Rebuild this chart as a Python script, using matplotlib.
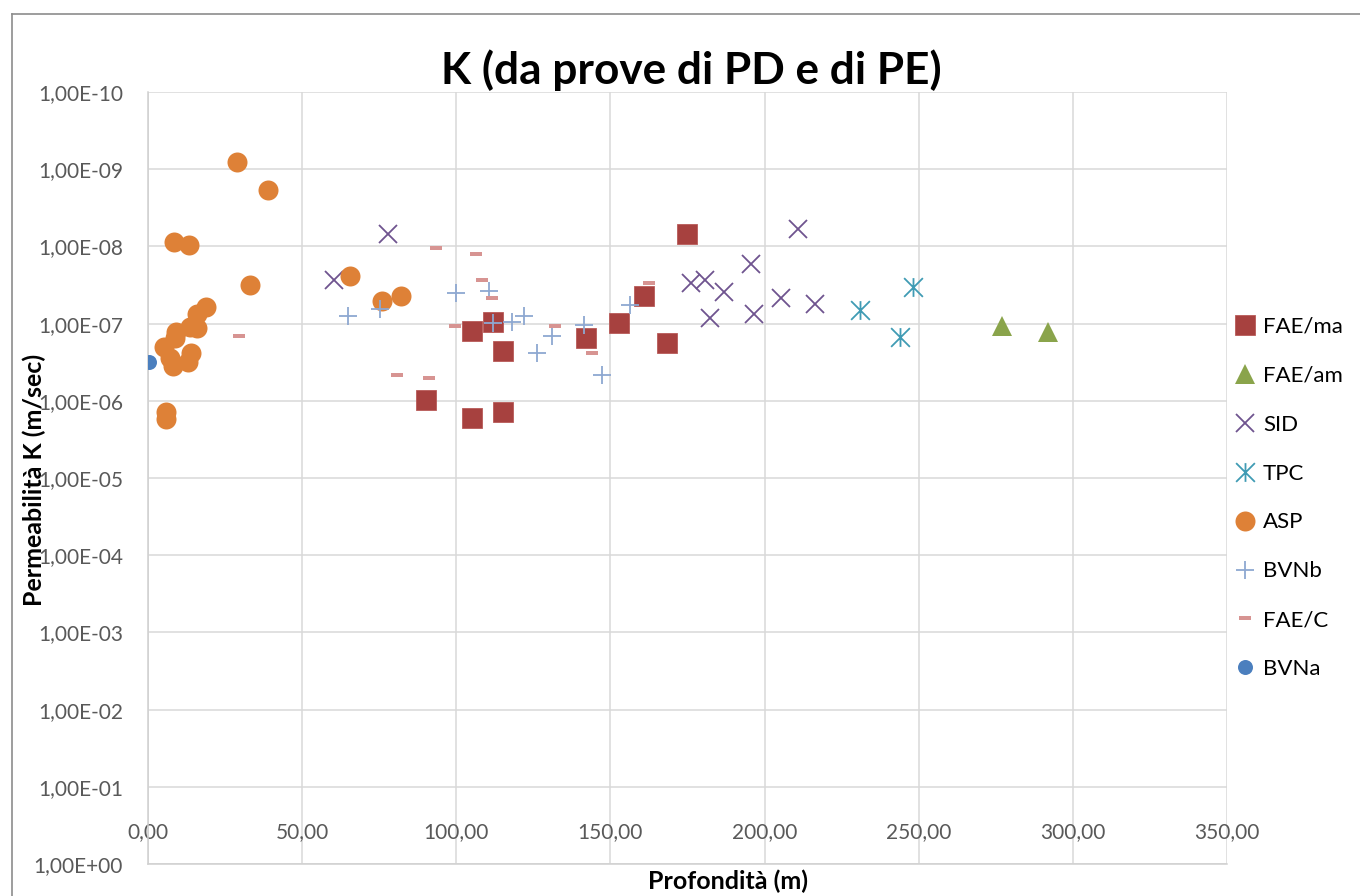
import matplotlib
matplotlib.use("Agg")
import matplotlib.pyplot as plt
from matplotlib.path import Path
from matplotlib.lines import Line2D
from matplotlib.ticker import FixedLocator, FuncFormatter

plt.rcParams['font.family'] = ['Lato', 'DejaVu Sans']

# Profondità (m) e permeabilità K (m/sec) per ogni formazione
fae_ma_x = [111.9, 105.1, 115.0, 90.1, 105.1, 115.0, 142.1, 152.9, 161.0, 168.3, 175.0]
fae_ma_k = [9.5e-8, 1.25e-7, 2.26e-7, 9.86e-7, 1.66e-6, 1.38e-6, 1.55e-7, 9.9e-8, 4.4e-8, 1.77e-7, 6.9e-9]

fae_am_x = [277.0, 292.0]
fae_am_k = [1.07e-7, 1.27e-7]

sid_x = [60.3, 78.0, 176.0, 180.7, 187.0, 195.6, 182.4, 196.5, 205.4, 216.5, 210.7]
sid_k = [2.7e-8, 7.0e-9, 3.0e-8, 2.7e-8, 3.9e-8, 1.7e-8, 8.4e-8, 7.5e-8, 4.6e-8, 5.5e-8, 6.0e-9]

tpc_x = [231.0, 244.0, 248.0]
tpc_k = [6.7e-8, 1.48e-7, 3.4e-8]

asp_x = [28.9, 39.0, 8.4, 13.4, 33.0, 18.8, 15.8, 15.8, 13.6, 9.1, 8.7, 5.3, 7.1, 8.0,
         13.9, 13.1, 6.0, 6.0, 65.6, 76.0, 82.0]
asp_k = [8.0e-10, 1.87e-9, 8.85e-9, 9.7e-9, 3.2e-8, 6.1e-8, 7.6e-8, 1.13e-7, 1.1e-7, 1.3e-7,
         1.55e-7, 2.0e-7, 2.75e-7, 3.5e-7, 2.4e-7, 3.1e-7, 1.38e-6, 1.7e-6, 2.4e-8, 5.1e-8, 4.4e-8]

bvnb_x = [65.0, 75.2, 100.0, 110.6, 111.9, 118.0, 121.9, 130.9, 126.1, 141.5, 156.5, 147.3]
bvnb_k = [8.0e-8, 6.4e-8, 4.05e-8, 3.8e-8, 9.7e-8, 9.5e-8, 8.0e-8, 1.45e-7, 2.4e-7, 1.03e-7, 5.7e-8, 4.7e-7]

fae_c_x = [29.5, 80.7, 91.0, 93.5, 106.5, 108.5, 111.5, 99.6, 132.0, 144.0, 162.5]
fae_c_k = [1.45e-7, 4.6e-7, 5.0e-7, 1.04e-8, 1.26e-8, 2.75e-8, 4.6e-8, 1.08e-7, 1.08e-7, 2.4e-7, 3.0e-8]

bvna_x = [0.4]
bvna_k = [3.1e-7]

x_ticks = [0, 50, 100, 150, 200, 250, 300, 350]
y_ticks = [10.0 ** -e for e in range(0, 11)]

# marker personalizzati (asterisco stile Excel e trattino)
asterisco = Path([(0, -1), (0, 1), (-1, -1), (1, 1), (-1, 1), (1, -1)],
                 [Path.MOVETO, Path.LINETO, Path.MOVETO, Path.LINETO, Path.MOVETO, Path.LINETO])
trattino = [(-1, -0.42), (1, -0.42), (1, 0.42), (-1, 0.42), (-1, -0.42)]

W, H = 1360, 896
fig = plt.figure(figsize=(W / 100, H / 100), dpi=100)
ax = fig.add_axes([148 / W, (H - 864) / H, (1227 - 148) / W, (864 - 92) / H])

serie = [
    ("FAE/ma", fae_ma_x, fae_ma_k, dict(marker='s', ms=14.4, color='#A7413F', mec='#B85a58', mew=0.6)),
    ("FAE/am", fae_am_x, fae_am_k, dict(marker='^', ms=14.4, color='#8AA44B', mew=0)),
    ("SID", sid_x, sid_k, dict(marker='x', ms=13.5, color='#6F548F', mew=1.3)),
    ("TPC", tpc_x, tpc_k, dict(marker=asterisco, ms=13.5, color='#409BB4', mfc='none', mew=1.3)),
    ("ASP", asp_x, asp_k, dict(marker='o', ms=14.4, color='#DE8137', mew=0)),
    ("BVNb", bvnb_x, bvnb_k, dict(marker='+', ms=13, color='#8EA8D1', mew=1.3)),
    ("FAE/C", fae_c_x, fae_c_k, dict(marker=trattino, ms=8, color='#D79492', mew=0)),
    ("BVNa", bvna_x, bvna_k, dict(marker='o', ms=10.8, color='#4B7FBE', mew=0)),
]

handles = []
for nome, xs, ks, stile in serie:
    h, = ax.plot(xs, ks, linestyle='none', label=nome, zorder=3, **stile)
    handles.append(h)

ax.set_yscale('log')
ax.set_ylim(1, 1e-10)
ax.set_xlim(0, 350)
ax.xaxis.set_major_locator(FixedLocator(x_ticks))
ax.yaxis.set_major_locator(FixedLocator(y_ticks))
ax.yaxis.set_minor_locator(FixedLocator([]))
ax.xaxis.set_major_formatter(FuncFormatter(lambda v, p: f"{v:.2f}".replace('.', ',')))


def fmt_e(v, p):
    s = f"{v:.2E}"
    mant, esp = s.split('E')
    return mant.replace('.', ',') + 'E' + esp


ax.yaxis.set_major_formatter(FuncFormatter(fmt_e))
ax.grid(True, color='#D9D9D9', linewidth=1.1)
ax.set_axisbelow(True)
for lato in ['top', 'right']:
    ax.spines[lato].set_visible(False)
for lato in ['left', 'bottom']:
    ax.spines[lato].set_color('#D0D0D0')
    ax.spines[lato].set_linewidth(1.1)
ax.tick_params(axis='both', length=0, labelsize=15, labelcolor='#595959')
ax.tick_params(axis='y', pad=18)
ax.tick_params(axis='x', pad=-30)

fig.text(691 / W, 1 - 70 / H, "K (da prove di PD e di PE)", ha='center', va='center',
         fontsize=31.8, fontweight='bold')
fig.text(728 / W, 1 - 881 / H, "Profondità (m)", ha='center', va='center',
         fontsize=18, fontweight='bold')
fig.text(34 / W, 1 - 480 / H, "Permeabilità K (m/sec)", ha='center', va='center',
         rotation=90, fontsize=18, fontweight='bold')

fig.legend(handles=handles, loc='center left', bbox_to_anchor=(1223 / W, 1 - 498 / H),
           frameon=False, fontsize=16, labelspacing=1.3, handlelength=1.0,
           handletextpad=0.3, borderpad=0, numpoints=1)

# bordo dell'area grafico
fig.add_artist(Line2D([11.5 / W, 11.5 / W], [0, 1 - 14 / H], transform=fig.transFigure,
                      color='#8C8C8C', linewidth=1.2))
fig.add_artist(Line2D([11.5 / W, 1], [1 - 14 / H, 1 - 14 / H], transform=fig.transFigure,
                      color='#8C8C8C', linewidth=1.2))

fig.savefig("out.png", dpi=100)
